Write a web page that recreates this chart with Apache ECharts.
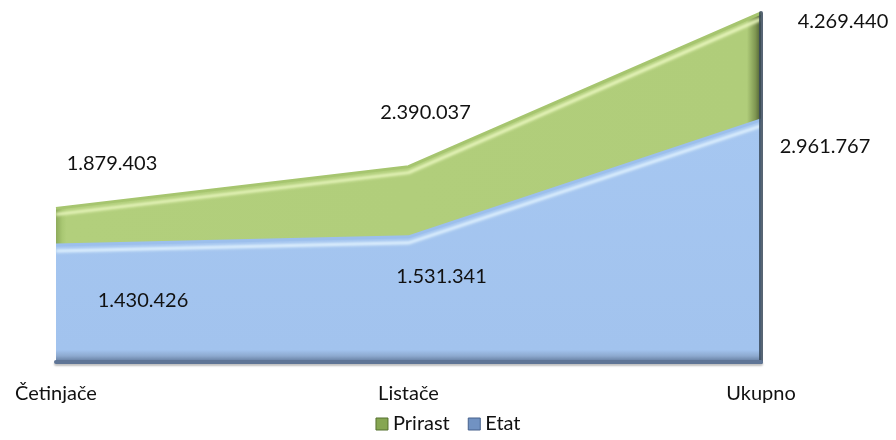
<!DOCTYPE html>
<html>
<head>
<meta charset="utf-8">
<script src="https://cdn.jsdelivr.net/npm/echarts@6/dist/echarts.min.js"></script>
<style>
html,body{margin:0;padding:0;background:#fff;}
#chart{width:896px;height:440px;}
</style>
</head>
<body>
<div id="chart"></div>
<script>
var categories = ['Četinjače', 'Listače', 'Ukupno'];
var prirast = [1879403, 2390037, 4269440];
var etat = [1430426, 1531341, 2961767];
var seriesNames = ['Prirast', 'Etat'];

// label placement (pixel offsets from each point) - style only
var prirastLabelOffsets = [[56, -45], [17, -54], [82, 9]];
var etatLabelOffsets = [[87, 55], [33, 40], [64, 27]];

function fmt(v) {
  return String(v).replace(/\B(?=(\d{3})+(?!\d))/g, '.');
}
function withOffsets(values, offsets) {
  return values.map(function (v, i) {
    return { value: v, label: { offset: offsets[i] } };
  });
}

var FONT = 'Lato, "Open Sans", sans-serif';
var chart = echarts.init(document.getElementById('chart'), null, { renderer: 'canvas' });
var labelBase = {
  show: true,
  position: 'inside',
  align: 'center',
  verticalAlign: 'middle',
  color: '#111111',
  fontFamily: FONT,
  fontSize: 20,
  formatter: function (p) { return fmt(p.value); }
};

chart.setOption({
  animation: false,
  backgroundColor: '#ffffff',
  grid: { left: 56, right: 135, top: 13, bottom: 78, containLabel: false },
  legend: {
    bottom: 1,
    left: 'center',
    icon: 'rect',
    itemWidth: 12,
    itemHeight: 12,
    itemGap: 18,
    textStyle: { fontFamily: FONT, fontSize: 20, color: '#111111' },
    data: [
      { name: seriesNames[0], itemStyle: { color: '#86a652', borderColor: '#55702f', borderWidth: 1 } },
      { name: seriesNames[1], itemStyle: { color: '#7192c2', borderColor: '#47618c', borderWidth: 1 } }
    ]
  },
  xAxis: {
    type: 'category',
    data: categories,
    boundaryGap: false,
    z: 5,
    axisLine: {
      show: true,
      lineStyle: { color: '#5f7596', width: 4, shadowColor: 'rgba(0,0,0,0.25)', shadowBlur: 2, shadowOffsetY: 2 }
    },
    axisTick: { show: false },
    splitLine: { show: false },
    axisLabel: { margin: 22, fontFamily: FONT, fontSize: 20, color: '#111111' }
  },
  yAxis: [{
    type: 'value',
    min: 0,
    max: 'dataMax',
    position: 'right',
    z: 5,
    axisLine: { show: true, lineStyle: { color: '#3a4a5c', width: 4, opacity: 0.85 } },
    axisTick: { show: false },
    axisLabel: { show: false },
    splitLine: { show: false }
  }],
  series: [
    {
      name: seriesNames[0],
      type: 'line',
      data: withOffsets(prirast, prirastLabelOffsets),
      symbol: 'circle',
      symbolSize: 0,
      showSymbol: true,
      itemStyle: { color: '#9bbb59' },
      lineStyle: { color: '#a6c56f', width: 3, shadowColor: '#eefac4', shadowBlur: 3, shadowOffsetY: 6 },
      areaStyle: {
        opacity: 1,
        color: new echarts.graphic.LinearGradient(0, 0, 1, 0, [
          { offset: 0, color: '#8eab5c' },
          { offset: 0.009, color: '#a9c873' },
          { offset: 0.015, color: '#b2cf7c' },
          { offset: 0.98, color: '#b0cd7a' },
          { offset: 0.992, color: '#7f9752' },
          { offset: 1, color: '#4d5c33' }
        ])
      },
      label: labelBase,
      z: 2
    },
    {
      name: seriesNames[1],
      type: 'line',
      data: withOffsets(etat, etatLabelOffsets),
      symbol: 'circle',
      symbolSize: 0,
      showSymbol: true,
      itemStyle: { color: '#4f81bd' },
      lineStyle: { color: '#9cbfec', width: 3, shadowColor: '#e6f6ff', shadowBlur: 3, shadowOffsetY: 6 },
      areaStyle: {
        opacity: 1,
        color: new echarts.graphic.LinearGradient(0, 0, 0, 1, [
          { offset: 0, color: '#a6c7f1' },
          { offset: 0.95, color: '#a2c3ee' },
          { offset: 0.975, color: '#8da9cf' },
          { offset: 1, color: '#60789a' }
        ])
      },
      label: labelBase,
      z: 3
    }
  ]
});
</script>
</body>
</html>
